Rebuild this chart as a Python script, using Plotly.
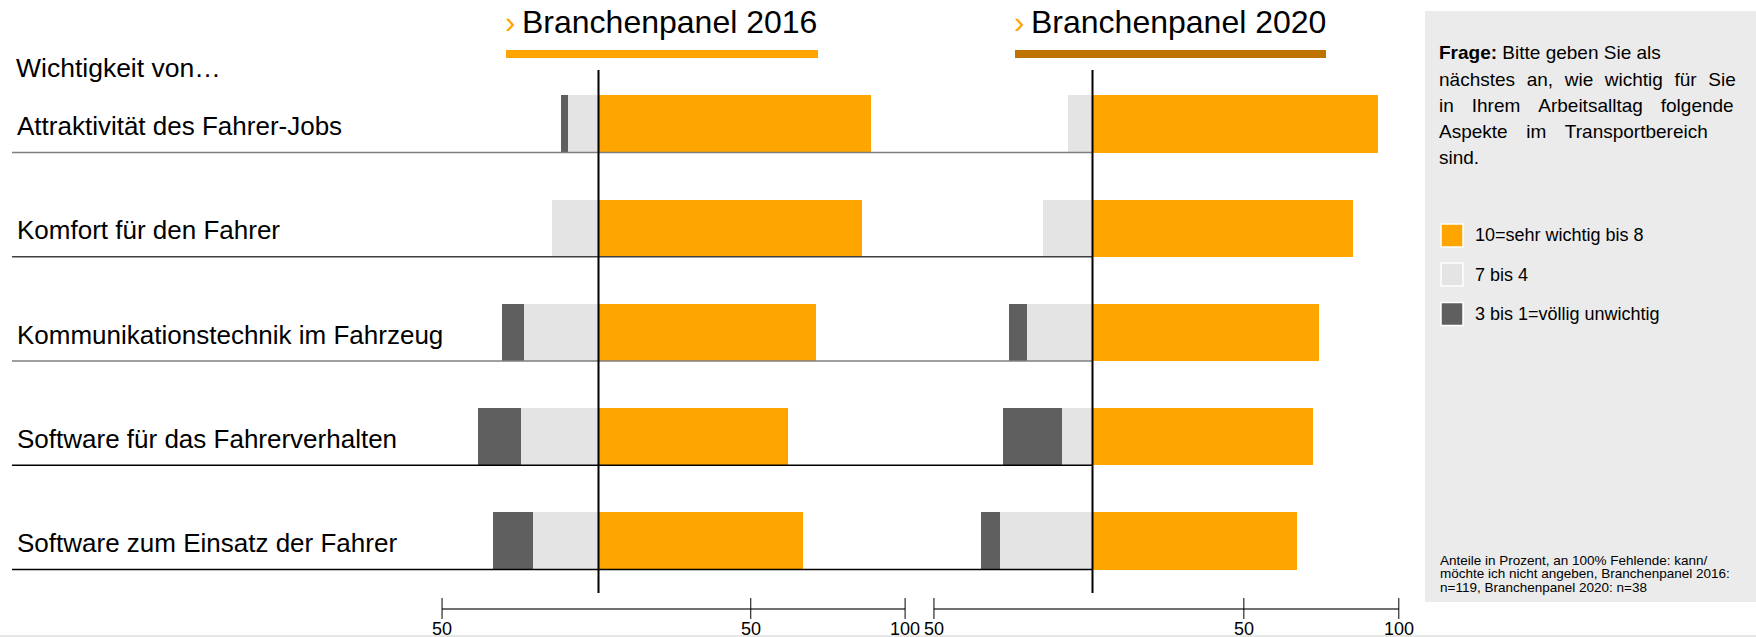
import plotly.graph_objects as go

# ---------------- data ----------------
categories = [
    "Attraktivität des Fahrer-Jobs",
    "Komfort für den Fahrer",
    "Kommunikationstechnik im Fahrzeug",
    "Software für das Fahrerverhalten",
    "Software zum Einsatz der Fahrer",
]
panel_titles = ["Branchenpanel 2016", "Branchenpanel 2020"]
high_2016 = [88, 85, 70, 61, 66]   # 10=sehr wichtig bis 8
mid_2016 = [10, 15, 24, 25, 21]    # 7 bis 4
low_2016 = [2, 0, 7, 14, 13]       # 3 bis 1=völlig unwichtig
high_2020 = [92, 84, 73, 71, 66]
mid_2020 = [8, 16, 21, 10, 30]
low_2020 = [0, 0, 6, 19, 6]
legend_labels = ["10=sehr wichtig bis 8", "7 bis 4", "3 bis 1=völlig unwichtig"]
axis_ticks = [-50, 50, 100]
axis_tick_labels = ["50", "50", "100"]
question_lines = [
    "<b>Frage:</b> Bitte geben Sie als",
    "nächstes an, wie wichtig für Sie",
    "in Ihrem Arbeitsalltag folgende",
    "Aspekte im Transportbereich",
    "sind.",
]
footnote_lines = [
    "Anteile in Prozent, an 100% Fehlende: kann/",
    "möchte ich nicht angeben, Branchenpanel 2016:",
    "n=119, Branchenpanel 2020: n=38",
]

# ---------------- layout constants ----------------
W, H = 1756, 637
FONT = "Liberation Sans, Arial, Helvetica, sans-serif"
ORANGE = "#FFA500"
BROWN = "#BF7300"
LIGHT = "#E4E4E4"
DARK = "#5F5F5F"
PX_PER_PCT = 3.1
ZERO_X = [598.5, 1092.5]
# bottom percentage scales (drawn slightly differently in the original)
SCALE_ZERO_X = [596.4, 1088.9]
SCALE_PX_PER_PCT = [3.087, 3.099]
ROW0_Y = 124.0
ROW_STEP = 104.25
BAR_W = 0.547
row_line_colors = ["#7F7F7F", "#404040", "#7F7F7F", "#000000", "#000000"]
# extra word spacing per question line (justified look of the original)
question_gap = ["", "\u2004", "\u2004\u2004", "\u2002\u2009", ""]


def px(x):
    return x / W


def py(y):
    return 1 - y / H


def xrange_for(zero, ppp=PX_PER_PCT):
    return [-zero / ppp, (W - zero) / ppp]


idx = list(range(len(categories)))
fig = go.Figure()

panels = [(high_2016, mid_2016, low_2016), (high_2020, mid_2020, low_2020)]
for k, (hi, mi, lo) in enumerate(panels):
    xa = "x" if k == 0 else "x2"
    fig.add_trace(go.Bar(y=idx, x=hi, orientation="h", width=BAR_W,
                         marker=dict(color=ORANGE, line=dict(width=0)),
                         xaxis=xa, yaxis="y", showlegend=False, hoverinfo="skip"))
    fig.add_trace(go.Bar(y=idx, x=[-v for v in mi], orientation="h", width=BAR_W,
                         marker=dict(color=LIGHT, line=dict(width=0)),
                         xaxis=xa, yaxis="y", showlegend=False, hoverinfo="skip"))
    fig.add_trace(go.Bar(y=idx, x=[-v for v in lo], orientation="h", width=BAR_W,
                         marker=dict(color=DARK, line=dict(width=0)),
                         xaxis=xa, yaxis="y", showlegend=False, hoverinfo="skip"))

# empty traces registering the two bottom scale axes
for xa in ["x3", "x4"]:
    fig.add_trace(go.Scatter(x=[], y=[], xaxis=xa, yaxis="y", showlegend=False,
                             hoverinfo="skip", mode="markers"))

shapes = []
annotations = []

# right info box
shapes.append(dict(type="rect", xref="paper", yref="paper", x0=px(1425), x1=px(W + 5),
                   y0=py(602), y1=py(11), fillcolor="#EBEBEB", line=dict(width=0), layer="below"))
# faint bottom line
shapes.append(dict(type="line", xref="paper", yref="paper", x0=0, x1=1, y0=py(636), y1=py(636),
                   line=dict(color="#E6E6E6", width=2)))

# row separator lines
for i in idx:
    shapes.append(dict(type="line", xref="paper", yref="y", x0=px(12), x1=px(ZERO_X[1]),
                       y0=i + BAR_W / 2, y1=i + BAR_W / 2,
                       line=dict(color=row_line_colors[i], width=1.5)))

for k in range(2):
    xa = "x" if k == 0 else "x2"
    sa = "x3" if k == 0 else "x4"
    # center zero line
    shapes.append(dict(type="line", xref=xa, yref="paper", x0=0, x1=0, y0=py(593), y1=py(70),
                       line=dict(color="#000000", width=2)))
    # bottom scale
    shapes.append(dict(type="line", xref=sa, yref="paper", x0=axis_ticks[0], x1=axis_ticks[-1],
                       y0=py(609), y1=py(609), line=dict(color="#404040", width=1.5)))
    for t, lab in zip(axis_ticks, axis_tick_labels):
        shapes.append(dict(type="line", xref=sa, yref="paper", x0=t, x1=t, y0=py(598), y1=py(619),
                           line=dict(color="#000000", width=1)))
        annotations.append(dict(x=t, xref=sa, y=py(629), yref="paper", text=lab, showarrow=False,
                                xanchor="center", yanchor="middle",
                                font=dict(family=FONT, size=18, color="#000000")))

# panel titles with underline bars
title_geo = [(506, 818, ORANGE), (1015, 1326, BROWN)]
for title, (x0, x1, col) in zip(panel_titles, title_geo):
    shapes.append(dict(type="rect", xref="paper", yref="paper", x0=px(x0), x1=px(x1),
                       y0=py(58), y1=py(50), fillcolor=col, line=dict(width=0)))
    annotations.append(dict(x=px(x0 + 3.5), y=py(22), xref="paper", yref="paper", text="›",
                            showarrow=False, xanchor="center", yanchor="middle",
                            font=dict(family=FONT, size=31, color=ORANGE)))
    annotations.append(dict(x=px(x0 + 14), y=py(22), xref="paper", yref="paper", text=title,
                            showarrow=False, xanchor="left", yanchor="middle",
                            font=dict(family=FONT, size=32, color="#000000")))

# header text
annotations.append(dict(x=px(14), y=py(68), xref="paper", yref="paper", text="Wichtigkeit von…",
                        showarrow=False, xanchor="left", yanchor="middle",
                        font=dict(family=FONT, size=26.5, color="#000000")))

# category labels
for i, c in enumerate(categories):
    annotations.append(dict(x=px(15), y=i, xref="paper", yref="y", text=c, showarrow=False,
                            xanchor="left", yanchor="middle", yshift=-2,
                            font=dict(family=FONT, size=26, color="#000000")))

# question text
for j, line in enumerate(question_lines):
    text = line.replace(" ", " " + question_gap[j]) if question_gap[j] else line
    annotations.append(dict(x=px(1437), y=py(53 + 26.2 * j), xref="paper", yref="paper", text=text,
                            showarrow=False, xanchor="left", yanchor="middle",
                            font=dict(family=FONT, size=19, color="#000000")))

# legend
legend_cols = [ORANGE, LIGHT, DARK]
legend_y = [235.5, 274.5, 314.0]
for lab, col, yc in zip(legend_labels, legend_cols, legend_y):
    shapes.append(dict(type="rect", xref="paper", yref="paper", x0=px(1441), x1=px(1463),
                       y0=py(yc + 11.5), y1=py(yc - 11.5), fillcolor=col,
                       line=dict(color="#FFFFFF", width=1.5)))
    annotations.append(dict(x=px(1473), y=py(yc), xref="paper", yref="paper", text=lab,
                            showarrow=False, xanchor="left", yanchor="middle",
                            font=dict(family=FONT, size=18, color="#000000")))

# footnote
for j, line in enumerate(footnote_lines):
    annotations.append(dict(x=px(1438), y=py(560 + 13.8 * j), xref="paper", yref="paper", text=line,
                            showarrow=False, xanchor="left", yanchor="middle",
                            font=dict(family=FONT, size=13.5, color="#000000")))

fig.update_layout(
    width=W, height=H,
    margin=dict(l=0, r=0, t=0, b=0),
    paper_bgcolor="#FFFFFF", plot_bgcolor="rgba(0,0,0,0)",
    barmode="relative",
    bargap=0,
    showlegend=False,
    xaxis=dict(domain=[0, 1], range=xrange_for(ZERO_X[0]), visible=False, fixedrange=True),
    xaxis2=dict(domain=[0, 1], range=xrange_for(ZERO_X[1]), visible=False, fixedrange=True,
                overlaying="x", anchor="y"),
    xaxis3=dict(domain=[0, 1], range=xrange_for(SCALE_ZERO_X[0], SCALE_PX_PER_PCT[0]),
                visible=False, fixedrange=True, overlaying="x", anchor="y"),
    xaxis4=dict(domain=[0, 1], range=xrange_for(SCALE_ZERO_X[1], SCALE_PX_PER_PCT[1]),
                visible=False, fixedrange=True, overlaying="x", anchor="y"),
    yaxis=dict(domain=[0, 1], range=[(H - ROW0_Y) / ROW_STEP, -ROW0_Y / ROW_STEP],
               visible=False, fixedrange=True),
    shapes=shapes,
    annotations=annotations,
    font=dict(family=FONT),
)

fig.write_html(
    "out.html",
    config={"displayModeBar": False},
    post_script="document.body.style.margin='0px';document.body.style.padding='0px';"
                "document.body.style.overflow='hidden';",
)
